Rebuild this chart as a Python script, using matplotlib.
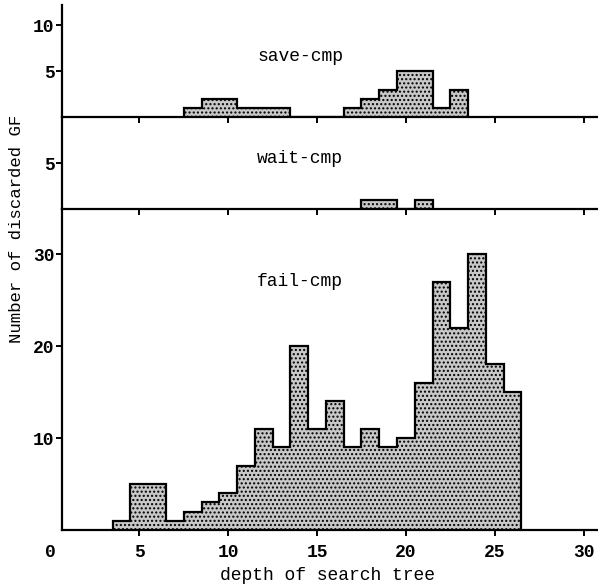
import numpy as np
import matplotlib.pyplot as plt

plt.rcParams['font.family'] = ['Liberation Mono', 'DejaVu Sans Mono']

# counts of discarded GF per depth of search tree
save_depth = [8, 9, 10, 11, 12, 13, 17, 18, 19, 20, 21, 22, 23]
save_count = [1, 2, 2, 1, 1, 1, 1, 2, 3, 5, 5, 1, 3]

wait_depth = [18, 19, 20, 21]
wait_count = [1, 1, 0, 1]

fail_depth = list(range(4, 27))
fail_count = [1, 5, 5, 1, 2, 3, 4, 7, 11, 9, 20, 11, 14, 9, 11, 9, 10, 16, 27, 22, 30, 18, 15]

panel_names = ['save-cmp', 'wait-cmp', 'fail-cmp']
x_ticks = [5, 10, 15, 20, 25, 30]


def full_range(depth, count):
    d = np.arange(min(depth), max(depth) + 1)
    c = np.zeros(len(d))
    for k, v in zip(depth, count):
        c[k - d[0]] = v
    edges = np.append(d - 0.5, d[-1] + 0.5)
    return c, edges


fig = plt.figure(figsize=(5.98, 5.88), dpi=100)
left, width = 62 / 598, 535 / 598
ax_top = fig.add_axes([left, 1 - 117.3 / 588, width, 112.3 / 588])
ax_mid = fig.add_axes([left, 1 - 209 / 588, width, 91.7 / 588])
ax_bot = fig.add_axes([left, 1 - 530 / 588, width, 321 / 588])

fill = '#c8c8c8'
for ax, dep, cnt in [(ax_top, save_depth, save_count),
                     (ax_mid, wait_depth, wait_count),
                     (ax_bot, fail_depth, fail_count)]:
    vals, edges = full_range(dep, cnt)
    ax.stairs(vals, edges, fill=True, facecolor=fill, edgecolor='black',
              linewidth=1.6, hatch='....')
    ax.set_xlim(0.65, 30.75)
    ax.spines['top'].set_visible(False)
    ax.spines['right'].set_visible(False)
    ax.spines['left'].set_linewidth(1.6)
    ax.spines['bottom'].set_linewidth(1.6)
    ax.set_xticks(x_ticks)
    ax.tick_params(direction='out', length=4, width=1.4, labelsize=13, pad=1.5)
    ax.patch.set_alpha(0)

ax_top.set_ylim(0, 12.2)
ax_top.set_yticks([5, 10])
ax_top.set_yticklabels(['5', '10'], fontweight='bold')
ax_top.tick_params(axis='x', labelbottom=False)

ax_mid.set_ylim(0, 9.97)
ax_mid.set_yticks([5])
ax_mid.set_yticklabels(['5'], fontweight='bold')
ax_mid.tick_params(axis='x', labelbottom=False)

ax_bot.set_ylim(0, 34.9)
ax_bot.set_yticks([10, 20, 30])
ax_bot.set_yticklabels(['10', '20', '30'], fontweight='bold')
ax_bot.set_xticklabels([str(t) for t in x_ticks], fontweight='bold')
ax_bot.tick_params(axis='x', pad=6)
ax_bot.text(0, -2.45, '0', ha='center', va='center', fontsize=13,
            fontweight='bold', clip_on=False)

ax_top.text(14.05, 6.6, panel_names[0], ha='center', va='center', fontsize=13)
ax_mid.text(14.05, 5.45, panel_names[1], ha='center', va='center', fontsize=13)
ax_bot.text(14.05, 27, panel_names[2], ha='center', va='center', fontsize=13)

fig.text(328 / 598, 1 - 576 / 588, 'depth of search tree', ha='center',
         va='center', fontsize=13)
fig.text(17 / 598, 1 - 229 / 588, 'Number of discarded GF', ha='center',
         va='center', rotation=90, fontsize=12.5)

fig.savefig('out.png', dpi=100)
